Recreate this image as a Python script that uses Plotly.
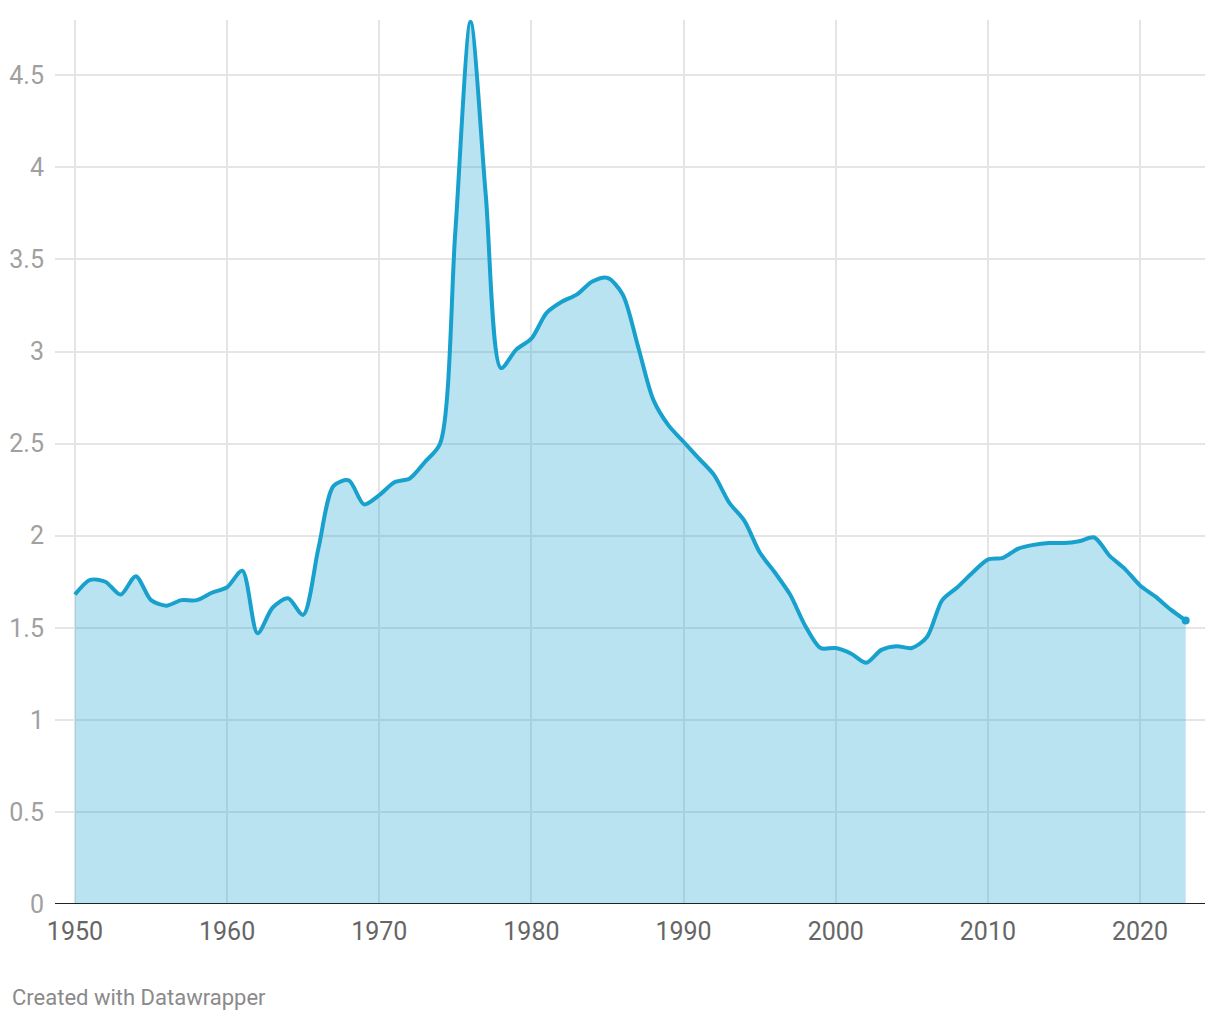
import plotly.graph_objects as go

years = list(range(1950, 2024))
values = [
    1.68, 1.76, 1.75, 1.68, 1.78, 1.65, 1.62, 1.65, 1.65, 1.69,
    1.72, 1.81, 1.47, 1.61, 1.66, 1.57, 1.93, 2.27, 2.30, 2.17,
    2.22, 2.29, 2.31, 2.40, 2.50, 3.65, 4.79, 3.85, 2.91, 3.01,
    3.07, 3.21, 3.27, 3.31, 3.38, 3.40, 3.31, 3.03, 2.74, 2.60,
    2.51, 2.42, 2.33, 2.18, 2.08, 1.91, 1.80, 1.68, 1.51, 1.39,
    1.39, 1.36, 1.31, 1.38, 1.40, 1.39, 1.45, 1.65, 1.72, 1.80,
    1.87, 1.88, 1.93, 1.95, 1.96, 1.96, 1.97, 1.99, 1.89, 1.82,
    1.73, 1.67, 1.60, 1.54,
]
x_ticks = [1950, 1960, 1970, 1980, 1990, 2000, 2010, 2020]
y_ticks = [0, 0.5, 1, 1.5, 2, 2.5, 3, 3.5, 4, 4.5]
y_labels = ["0", "0.5", "1", "1.5", "2", "2.5", "3", "3.5", "4", "4.5"]

LINE = "#18a1cd"
fig = go.Figure()
fig.add_trace(go.Scatter(
    x=years, y=values, mode="lines",
    line=dict(color=LINE, width=4, shape="spline", smoothing=0.8),
    fill="tozeroy", fillcolor="rgba(26,163,207,0.30)",
    cliponaxis=False, hoverinfo="skip", showlegend=False,
))
fig.add_trace(go.Scatter(
    x=[years[-1]], y=[values[-1]], mode="markers",
    marker=dict(color=LINE, size=8), cliponaxis=False,
    hoverinfo="skip", showlegend=False,
))

fig.update_layout(
    width=1220, height=1020,
    margin=dict(l=47, r=23, t=12, b=124, autoexpand=False),
    paper_bgcolor="white", plot_bgcolor="white",
    font=dict(family="Roboto", size=25, color="#666666"),
    xaxis=dict(
        range=[1948.69, 2024.27], tickvals=x_ticks, automargin=False,
        showgrid=True, gridcolor="#e5e5e5", gridwidth=2,
        zeroline=False, showline=False,
        ticks="outside", ticklen=5, tickcolor="rgba(0,0,0,0)",
        tickfont=dict(size=25, color="#666666"),
    ),
    yaxis=dict(
        range=[0, 4.8], tickvals=y_ticks, ticktext=y_labels, automargin=False,
        showgrid=True, gridcolor="#e5e5e5", gridwidth=2,
        zeroline=False, showline=False,
        ticks="outside", ticklen=5, tickcolor="rgba(0,0,0,0)",
        tickfont=dict(size=25, color="#a0a0a0"),
    ),
    shapes=[dict(type="line", xref="paper", yref="y", x0=0, x1=1, y0=0, y1=0,
                 line=dict(color="#222222", width=2))],
    annotations=[dict(text="Created with Datawrapper", xref="paper", yref="paper",
                      x=(2 - 47) / 1150, y=-93 / 884, xanchor="left", yanchor="middle",
                      showarrow=False, font=dict(size=22, color="#8a8a8a"))],
)
fig.write_html("out.html")
